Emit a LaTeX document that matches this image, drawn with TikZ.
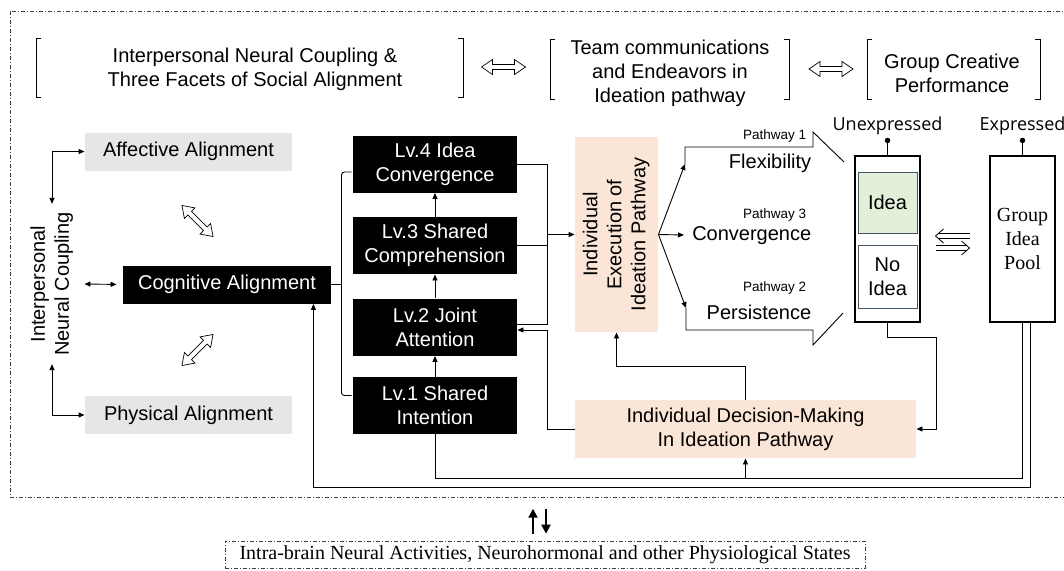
\documentclass[tikz,border=0pt]{standalone}
\usepackage{fontspec}
\setmainfont{Liberation Sans}
\newfontfamily\serifface{Liberation Serif}
\newfontfamily\thinface{Open Sans}
\usepackage{tikz}
\usetikzlibrary{arrows.meta,positioning}

\definecolor{peach}{HTML}{FBE5D6}
\definecolor{lightgrey}{HTML}{E7E6E6}
\definecolor{ideagreen}{HTML}{E2F0D9}
\definecolor{slate}{HTML}{44546A}

\begin{document}
\begin{tikzpicture}[x=1pt,y=-1pt,line width=0.9pt,
  font=\fontsize{20}{24}\selectfont,
  >={Triangle[length=6pt,width=5pt]},
  greybox/.style={fill=lightgrey,minimum width=207,minimum height=38,inner sep=0},
  blackbox/.style={fill=black,text=white,align=center,inner sep=0},
  lv/.style={blackbox,minimum width=164,minimum height=57},
  peachbox/.style={fill=peach,align=center,inner sep=0},
  slot/.style={draw=slate,line width=1pt,align=center,inner sep=0,minimum width=59},
  column/.style={draw,line width=1.1pt,minimum width=65,minimum height=166,inner sep=0},
  small/.style={font=\fontsize{13.5}{16}\selectfont,anchor=east},
  tag/.style={font=\thinface\fontsize{18}{22}\selectfont,inner sep=1pt},
  dot/.style={circle,fill,inner sep=0,minimum size=5.5},
  twoway/.pic={\draw[fill=white,line width=0.7pt] (-22,0) -- (-11,7.5) -- (-11,2.5)
    -- (11,2.5) -- (11,7.5) -- (22,0) -- (11,-7.5) -- (11,-2.5) -- (-11,-2.5) -- (-11,-7.5) -- cycle;},
  oneway/.pic={\draw[line width=0.8pt] (-9,-7) -- (-17,0) -- (-9,7);
    \draw[line width=0.8pt] (-14,-2.5) -- (17,-2.5) (-14,2.5) -- (17,2.5);},
  updown/.style={line width=2pt,-{Triangle[length=9pt,width=9pt]}},
  frame/.style={draw=black!75,line width=0.6pt,dash pattern=on 4pt off 2pt on 1pt off 2pt}]
\useasboundingbox (0,0) rectangle (1064,570);

% outer frame
\draw[frame] (10,11) rectangle (1075,497);

% headings
\node[align=center] (hsoc) at (255,69) {Interpersonal Neural Coupling \&\\Three Facets of Social Alignment};
\node[align=center] (hteam) at (670,73) {Team communications\\and Endeavors in\\Ideation pathway};
\node[align=center] (hgrp) at (952,73) {Group Creative\\Performance};
\draw (41,38) -- (36,38) -- (36,97) -- (41,97);
\draw (458,38) -- (463,38) -- (463,97) -- (458,97);
\draw (555,39) -- (550,39) -- (550,99) -- (555,99);
\draw (784,39) -- (789,39) -- (789,99) -- (784,99);
\draw (872,39) -- (867,39) -- (867,99) -- (872,99);
\draw (1035,39) -- (1040,39) -- (1040,99) -- (1035,99);
\pic at (503.5,67) {twoway};
\pic at (831,69) {twoway};

% social alignment
\node[greybox] (aff) at (188.5,151.5) {Affective Alignment};
\node[greybox] (phy) at (188.5,415) {Physical Alignment};
\node[blackbox,minimum width=208,minimum height=38] (cog) at (227,284.5) {Cognitive Alignment};
\node[inner sep=8pt] (inc) at (52,284) {\rotatebox{90}{\begin{tabular}{@{}c@{}}Interpersonal\\Neural Coupling\end{tabular}}};
\draw[<->] (inc.north) |- (aff.west);
\draw[<->] (inc.south) |- (phy.west);
\draw[<->,shorten >=6pt] (inc.east) -- (cog.west);
\pic[rotate=-45] at (197.5,221) {twoway};
\pic[rotate=45] at (197.5,350) {twoway};

% levels
\node[lv] (lv4) at (435,164) {Lv.4 Idea\\Convergence};
\node[lv] (lv3) at (435,245.5) {Lv.3 Shared\\Comprehension};
\node[lv] (lv2) at (435,327) {Lv.2 Joint\\Attention};
\node[lv] (lv1) at (435,405.5) {Lv.1 Shared\\Intention};
\foreach \a/\b in {lv1/lv2,lv2/lv3,lv3/lv4}
  \draw[->] (\a) -- (\b);
\draw[rounded corners=3pt] ([shift={(-1,8)}]lv4.west) -| ([xshift=10]cog.east) |- ([shift={(-1,-10)}]lv1.west);
\draw (cog.east) -- ++(10,0);

% individual pathway
\node[peachbox,minimum width=83,minimum height=195] (exe) at (616.5,234.5) {\rotatebox{90}{\begin{tabular}{@{}c@{}}Individual\\Execution of\\Ideation Pathway\end{tabular}}};
\node[peachbox,minimum width=341,minimum height=58] (dec) at (745.5,429) {Individual Decision-Making\\In Ideation Pathway};
\draw (lv4.east) -| ([shift={(30,-3)}]lv2.east) -- ([shift={(0,-3)}]lv2.east);
\draw (lv3.east) -- ++(30,0);
\draw[->] ([xshift=30]lv3.east |- exe.west) -- (exe.west);
\draw[->] (dec.west) -| ([shift={(30,3)}]lv2.east) -- ([shift={(0,3)}]lv2.east);
\draw[->] (dec.north) -- ++(0,-33) -| (exe.south);

% three pathways
\coordinate (ft) at (685,164);
\coordinate (fm) at (684,235);
\coordinate (fb) at (686,308);
\foreach \t in {ft,fm,fb}
  \draw[->] (exe.east) -- (\t);
\draw (ft) |- (813,147) -- ++(0,-15) -- ++(31,30);
\draw (fb) |- (813,330) -- ++(0,15) -- ++(30,-32);
\node[small] (p1) at (810,136) {Pathway 1};
\node[anchor=east] (flex) at (815,163) {Flexibility};
\node[small] (p3) at (810,215) {Pathway 3};
\node[anchor=east] (conv) at (815,236) {Convergence};
\node[small] (p2) at (810,288) {Pathway 2};
\node[anchor=east] (pers) at (815,312) {Persistence};

% idea slots and pool
\node[column] (unexp) at (887.5,239) {};
\node[slot,fill=ideagreen,minimum height=61] (idea) at (887.5,202.5) {Idea};
\node[slot,fill=white,minimum height=63] (noidea) at (887.5,276.5) {No\\Idea};
\node[column,align=center,font=\serifface\fontsize{20}{24}\selectfont] (pool) at (1022.5,239) {Group\\Idea\\Pool};
\draw (unexp.north) -- ++(0,-15) node[dot] (udot) {};
\draw (pool.north) -- ++(0,-15) node[dot] (edot) {};
\node[tag,above=1pt of udot] {Unexpressed};
\node[tag,above=1pt of edot] {Expressed};
\pic at (952.5,236) {oneway};
\pic[rotate=180] at (952.5,248) {oneway};
\draw[->] (unexp.south) -- ++(0,15) -| ([xshift=20]dec.east) -- (dec.east);

% feedback lines along the bottom
\draw (pool.south) -- ++(0,156) coordinate (bl) -| (lv1.south);
\draw[->] (dec.south |- bl) -- (dec.south);
\draw[->] ([xshift=8]pool.south) -- ++(0,165) -| ([xshift=-18]cog.south east);

% physiological states
\node[frame,minimum width=640,minimum height=27,inner sep=0,font=\serifface\fontsize{20}{24}\selectfont] (intra) at (545,554.5) {Intra-brain Neural Activities, Neurohormonal and other Physiological States};
\draw[updown] ([shift={(-12,-7)}]intra.north) -- ++(0,-25);
\draw[updown] ([shift={(1,-32)}]intra.north) -- ++(0,25);
\end{tikzpicture}
\end{document}
